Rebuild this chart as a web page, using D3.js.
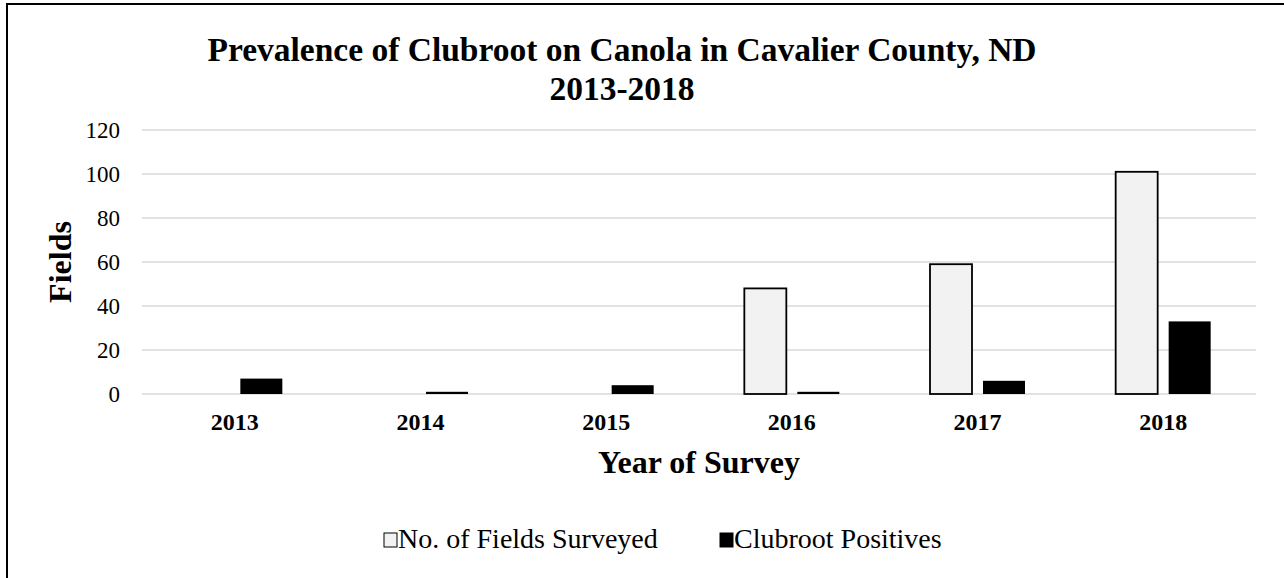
<!DOCTYPE html>
<html><head><meta charset="utf-8">
<script src="https://cdn.jsdelivr.net/npm/d3@7"></script>
<style>body{margin:0;background:#fff}svg{display:block}text{font-family:"Liberation Serif","Times New Roman",serif;fill:#000}</style>
</head><body><svg id="c" width="1284" height="578"></svg>
<script>
const years = ["2013","2014","2015","2016","2017","2018"];
const surveyed = [0, 0, 0, 48, 59, 101];
const positives = [7, 1, 4, 1, 6, 33];
const yTicks = [0, 20, 40, 60, 80, 100, 120];
const seriesNames = ["No. of Fields Surveyed", "Clubroot Positives"];

const svg = d3.select("#c");
svg.append("rect").attr("x",7).attr("y",4).attr("width",1290).attr("height",590)
  .attr("fill","#fff").attr("stroke","#000").attr("stroke-width",2);

const L=142, R=1256, T=130, B=394;
const x = d3.scaleBand().domain(years).range([L,R]).paddingInner(0).paddingOuter(0);
const y = d3.scaleLinear().domain([0,120]).range([B,T]);
const barW = 42, gap = 11;

svg.append("g").selectAll("line").data(yTicks).join("line")
  .attr("x1",L).attr("x2",R).attr("y1",d=>y(d)).attr("y2",d=>y(d))
  .attr("stroke","#d9d9d9").attr("stroke-width",1.5);

const yAxis = d3.axisLeft(y).tickValues(yTicks).tickSize(0).tickPadding(22);
const gy = svg.append("g").attr("transform",`translate(${L},0)`).call(yAxis);
gy.select(".domain").remove();
gy.selectAll("text").style("font-family","Liberation Serif").style("font-size","23px").attr("fill","#000").attr("dy","0.34em");

const data = years.map((yr,i)=>({yr, s:surveyed[i], p:positives[i]}));
const cx = d => x(d.yr)+x.bandwidth()/2;
svg.append("g").selectAll("rect").data(data.filter(d=>d.s>0)).join("rect")
  .attr("x",d=>cx(d)-gap/2-barW).attr("width",barW)
  .attr("y",d=>y(d.s)).attr("height",d=>y(0)-y(d.s))
  .attr("fill","#f2f2f2").attr("stroke","#000").attr("stroke-width",1.8);
svg.append("g").selectAll("rect").data(data).join("rect")
  .attr("x",d=>cx(d)+gap/2).attr("width",barW)
  .attr("y",d=>y(d.p)).attr("height",d=>y(0)-y(d.p))
  .attr("fill","#000");

const xAxis = d3.axisBottom(x).tickSize(0).tickPadding(0);
const gx = svg.append("g").attr("transform",`translate(0,${B})`).call(xAxis);
gx.select(".domain").remove();
gx.selectAll("text").style("font-family","Liberation Serif").style("font-size","24px").style("font-weight","bold")
  .attr("fill","#000").attr("y",36).attr("dy",0);

svg.append("text").attr("x",622).attr("y",61).attr("text-anchor","middle")
  .style("font-size","33.5px").style("font-weight","bold").text("Prevalence of Clubroot on Canola in Cavalier County, ND");
svg.append("text").attr("x",622).attr("y",100).attr("text-anchor","middle")
  .style("font-size","33.5px").style("font-weight","bold").text("2013-2018");

svg.append("text").attr("transform",`translate(71,${(T+B)/2}) rotate(-90)`).attr("text-anchor","middle")
  .style("font-size","32px").style("font-weight","bold").text("Fields");
svg.append("text").attr("x",(L+R)/2).attr("y",473).attr("text-anchor","middle")
  .style("font-size","32px").style("font-weight","bold").text("Year of Survey");

const leg = svg.append("g");
const legX = [384, 720];
seriesNames.forEach((n,i)=>{
  leg.append("rect").attr("x",legX[i]).attr("y",533).attr("width",13).attr("height",14)
    .attr("fill", i===0?"#f2f2f2":"#000").attr("stroke","#000").attr("stroke-width",1);
  leg.append("text").attr("x",legX[i]+14).attr("y",548).style("font-size","28px").text(n);
});
</script></body></html>
